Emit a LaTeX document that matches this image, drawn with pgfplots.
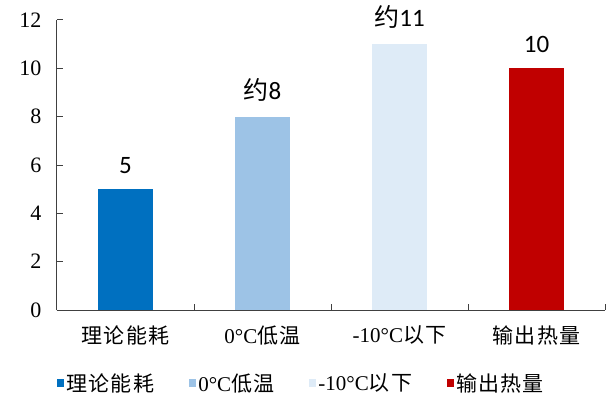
\documentclass[border=0pt]{standalone}
\usepackage{fontspec}
\usepackage{pgfplots}
\pgfplotsset{compat=1.18}
\setmainfont{Liberation Serif}
\newfontfamily\cjk[LetterSpace=6]{Noto Sans CJK SC}
\newfontfamily\cjkl{Noto Sans CJK SC}
\newfontfamily\lab{Carlito}
\definecolor{c1}{HTML}{0070C0}
\definecolor{c2}{HTML}{9DC3E6}
\definecolor{c3}{HTML}{DEEBF7}
\definecolor{c4}{HTML}{C00000}
\definecolor{axc}{HTML}{404040}
\begin{document}
\begin{tikzpicture}
\begin{axis}[
  name=ax,
  scale only axis, width=548pt, height=290pt,
  xmin=-0.5, xmax=3.5, ymin=0, ymax=12,
  ytick={0,2,...,12},
  xtick={0,1,2,3},
  xticklabels={{\cjk 理论能耗},{0°C\cjk 低温},{-10°C\cjk 以下},{\cjk 输出热量}},
  minor xtick={-0.5,0.5,1.5,2.5,3.5},
  major x tick style={draw=none},
  axis x line*=bottom, axis y line*=left,
  axis line style={axc, line width=1pt},
  tick style={axc, line width=1pt},
  tick align=inside,
  major tick length=6pt, minor tick length=6pt,
  /pgf/number format/assume math mode=true,
  tick label style={font=\fontsize{21}{24}\selectfont},
  yticklabel style={font=\fontsize{22}{24}\selectfont, xshift=-12pt},
  xticklabel style={yshift=-12pt},
  legend style={at={(0.4465,-0.252)}, anchor=center, draw=none, fill=none,
    legend columns=-1, font=\fontsize{21}{24}\selectfont,
    /tikz/every even column/.append style={column sep=33pt},
    legend cell align=left},
  legend image code/.code={\fill[#1, draw=none] (-6pt,-4pt) rectangle (1pt,4pt);},
  every node near coord/.append style={font=\lab\fontsize{25}{28}\selectfont, yshift=12pt},
  clip=false,
]
\addplot[ybar, bar width=55pt, bar shift=0pt, fill=c1, draw=none, nodes near coords={5}] coordinates {(0,5)};
\addlegendentry{\cjk 理论能耗}
\addplot[ybar, bar width=55pt, bar shift=0pt, fill=c2, draw=none, nodes near coords={{\cjkl 约}8}] coordinates {(1,8)};
\addlegendentry{0°C\cjk 低温}
\addplot[ybar, bar width=55pt, bar shift=0pt, fill=c3, draw=none, nodes near coords={{\cjkl 约}11}] coordinates {(2,11)};
\addlegendentry{-10°C\cjk 以下}
\addplot[ybar, bar width=55pt, bar shift=0pt, fill=c4, draw=none, nodes near coords={10}] coordinates {(3,10)};
\addlegendentry{\cjk 输出热量}
\end{axis}
\path (ax.south west) ++(-57pt,-97pt) rectangle ++(613pt,407pt);
\end{tikzpicture}
\end{document}
